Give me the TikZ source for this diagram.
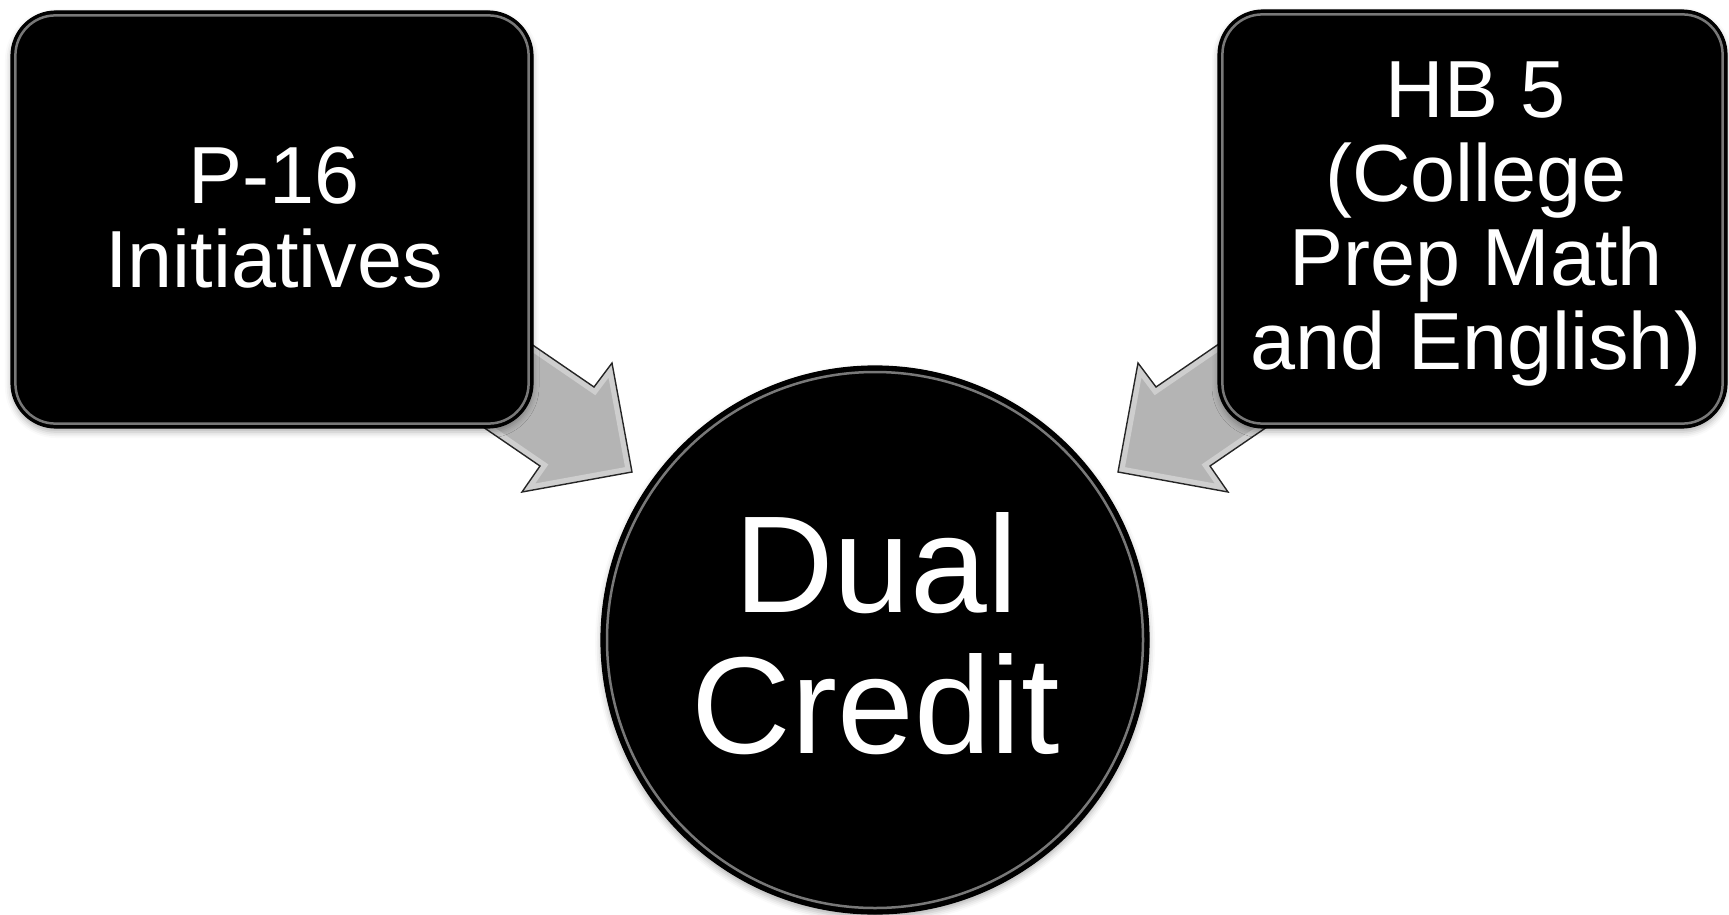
\documentclass[tikz,border=0pt]{standalone}
\usepackage{fontspec}
\setmainfont{Liberation Sans}
\usetikzlibrary{shadows.blur}
\definecolor{arrowgray}{RGB}{180,180,180}
\definecolor{ringgray}{RGB}{120,120,120}
\tikzset{
  blackbox/.style={draw=black, line width=1.2pt, fill=black, rounded corners=45pt,
    inner sep=0pt, blur shadow={shadow xshift=0pt, shadow yshift=-4pt, shadow opacity=30, shadow blur radius=6pt}},
  blackdisc/.style={circle, draw=black, line width=1.2pt, fill=black, inner sep=0pt,
    blur shadow={shadow xshift=0pt, shadow yshift=-4pt, shadow opacity=30, shadow blur radius=6pt}},
  ring/.style={draw=ringgray, line width=2.5pt},
  boxtext/.style={text=white, align=center, inner sep=0pt, anchor=north,
    font=\fontsize{81pt}{84pt}\selectfont},
  bigtext/.style={text=white, align=center, inner sep=0pt, anchor=north,
    font=\fontsize{138pt}{141pt}\selectfont},
  blockarrow/.style={draw=black!85, line width=1.4pt, line join=miter},
  bevel/.style={draw=white, draw opacity=0.35, line width=12pt, line join=miter},
}
\begin{document}
\begin{tikzpicture}[x=1pt, y=-1pt]
\useasboundingbox (0,0) rectangle (1729,915);
% block arrows (behind the boxes)
\def\leftarrowpath{(429,274) -- (594,387) -- (612,363) -- (632,472) -- (522,492) -- (540,466) -- (375,353) -- cycle}
\def\rightarrowpath{(1321,274) -- (1156,387) -- (1138,363) -- (1118,472) -- (1228,492) -- (1210,466) -- (1375,353) -- cycle}
\fill[arrowgray] \leftarrowpath;
\begin{scope}
  \clip \leftarrowpath;
  \draw[bevel] \leftarrowpath;
\end{scope}
\draw[blockarrow] \leftarrowpath;
\fill[arrowgray] \rightarrowpath;
\begin{scope}
  \clip \rightarrowpath;
  \draw[bevel] \rightarrowpath;
\end{scope}
\draw[blockarrow] \rightarrowpath;
% boxes
\node[blackbox, minimum width=522pt, minimum height=417pt] (p16) at (272,219.5) {};
\node[blackbox, minimum width=509pt, minimum height=418pt] (hb5) at (1472.5,219) {};
\draw[ring, rounded corners=40pt] ([shift={(5,5)}]p16.north west) rectangle ([shift={(-5,-5)}]p16.south east);
\draw[ring, rounded corners=40pt] ([shift={(5,5)}]hb5.north west) rectangle ([shift={(-5,-5)}]hb5.south east);
% circle
\node[blackdisc, minimum size=548pt] (dual) at (875,640) {};
\draw[ring] (dual.center) circle[radius=268pt];
% texts
\node[boxtext] (p16text) at (274,147) {P-16\\Initiatives};
\node[boxtext] (hb5text) at (1476,62) {HB 5\\(College\\Prep Math\\and English)};
\node[bigtext] (dualtext) at (876,512) {Dual\\Credit};
\end{tikzpicture}
\end{document}
